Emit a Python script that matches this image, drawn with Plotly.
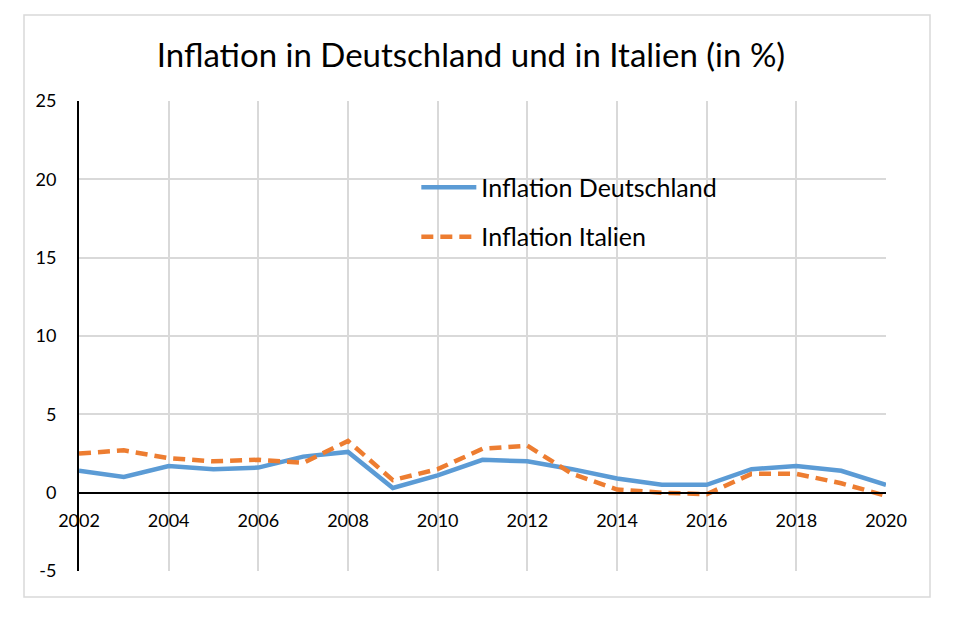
import plotly.graph_objects as go

years = list(range(2002, 2021))
de = [1.4, 1.0, 1.7, 1.5, 1.6, 2.3, 2.6, 0.3, 1.1, 2.1, 2.0, 1.5, 0.9, 0.5, 0.5, 1.5, 1.7, 1.4, 0.5]
it = [2.5, 2.7, 2.2, 2.0, 2.1, 1.9, 3.3, 0.8, 1.5, 2.8, 3.0, 1.2, 0.2, 0.0, -0.1, 1.2, 1.2, 0.6, -0.2]
y_ticks = [-5, 0, 5, 10, 15, 20, 25]
y_tick_labels = ["-5", "0", "5", "10", "15", "20", "25"]
title_text = "Inflation in Deutschland und in Italien (in %)"
names = ["Inflation Deutschland", "Inflation Italien"]

FONT = "Lato"
# page body has an 8px offset; compensate so the plot lands at the same pixels
OX, OY = 8, 8
L, R, T, B = 79 - OX, 954 - 886 + OX, 101 - OY, 619 - 571 + OY

fig = go.Figure()
fig.add_trace(go.Scatter(x=years, y=de, mode="lines", name=names[0], legendgroup="a",
                         line=dict(color="#5B9BD5", width=4.5)))
fig.add_trace(go.Scatter(x=years, y=it, mode="lines", name=names[1], legendgroup="b",
                         line=dict(color="#ED7D31", width=4.5, dash="12px,7px")))

fig.update_layout(
    width=954, height=619,
    margin=dict(l=L, r=R, t=T, b=B),
    paper_bgcolor="white", plot_bgcolor="white",
    font=dict(family=FONT, color="black"),
    title=dict(text=title_text, x=(471 - OX) / 954, xanchor="center",
               y=1 - (55 - OY) / 619, yanchor="middle",
               font=dict(family=FONT, size=33, color="black")),
    showlegend=True,
    legend=dict(x=0.418, y=0.865, xanchor="left", yanchor="top",
                font=dict(family=FONT, size=25, color="black"),
                bgcolor="rgba(0,0,0,0)", itemwidth=55, tracegroupgap=14,
                traceorder="grouped"),
    xaxis=dict(range=[2002, 2020], dtick=2, tick0=2002, showgrid=True, gridcolor="#d9d9d9",
               gridwidth=1.5, showline=True, linecolor="black", linewidth=2,
               anchor="free", position=5/30, ticks="", ticklabelstandoff=12,
               tickfont=dict(family=FONT, size=18, color="black"), zeroline=False),
    yaxis=dict(range=[-5, 25], tickvals=y_ticks, ticktext=y_tick_labels,
               showgrid=True, gridcolor="#d9d9d9",
               gridwidth=1.5, showline=True, linecolor="black", linewidth=2,
               ticks="", ticklabelstandoff=17, zeroline=False,
               tickfont=dict(family=FONT, size=18, color="black")),
    shapes=[dict(type="rect", xref="paper", yref="paper",
                 x0=(24 - 79) / 807, x1=(930 - 79) / 807,
                 y0=(571 - 597) / 470, y1=(571 - 15) / 470,
                 line=dict(color="#d9d9d9", width=1.5), fillcolor="rgba(0,0,0,0)", layer="below")],
)

fig.write_html("out.html")
